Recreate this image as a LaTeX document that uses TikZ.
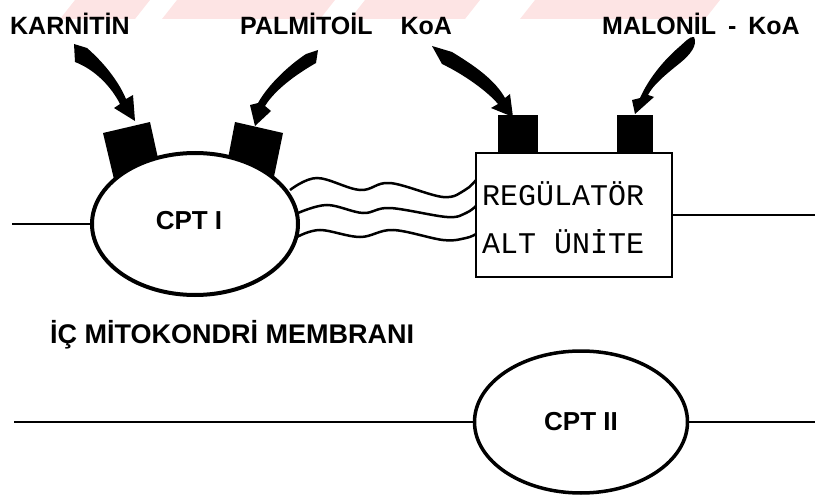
\documentclass[tikz,border=0pt]{standalone}
\usepackage{fontspec}
\setmainfont{Liberation Sans}
\newfontfamily\monofam{Liberation Mono}
\usetikzlibrary{shapes.geometric}
\definecolor{wm}{RGB}{253,228,228}
\tikzset{
  x=1pt,y=-1pt,
  lbl/.style={inner sep=0pt,anchor=base west,font=\fontsize{25}{30}\selectfont\bfseries},
  memlbl/.style={inner sep=0pt,anchor=base west,font=\fontsize{27}{32}\selectfont\bfseries},
  boxtxt/.style={inner sep=0pt,anchor=base west,font=\fontsize{30}{34}\selectfont\monofam},
  enz/.style={draw,ellipse,line width=4pt,fill=white,inner sep=0pt},
  mem/.style={line width=2pt},
  wave/.style={line width=2.5pt},
  blk/.style={fill=black},
}
\begin{document}
\begin{tikzpicture}
\useasboundingbox (0,0) rectangle (820,495);
% faint watermark band
\fill[wm] (60,19) -- (75,0) -- (150,0) -- (135,19) -- cycle;
\fill[wm] (162,19) -- (177,0) -- (335,0) -- (320,19) -- cycle;
\fill[wm] (350,19) -- (365,0) -- (480,0) -- (465,19) -- cycle;
\fill[wm] (520,19) -- (535,0) -- (720,0) -- (705,19) -- cycle;

% labels
\node[lbl] (karnitin) at (10,35) {KARNİTİN};
\node[lbl] (palm) at (240,35) {PALMİTOİL\hspace*{28pt}KoA};
\node[lbl] (malonil) at (602,35) {MALONİL\hspace*{12pt}-\hspace*{12pt}KoA};

% membrane lines
\coordinate (mL1) at (12,224);
\coordinate (mR1) at (815,215);
\coordinate (mL2) at (14,422);
\coordinate (mR2) at (815,422);

% blocks on CPT I (drawn before ellipse so that it covers their bases)
\fill[blk] (103,133) -- (150,122) -- (165,190) -- (118,196) -- cycle;
\fill[blk] (235,122) -- (283,133) -- (270,196) -- (222,190) -- cycle;

\node[enz,minimum width=206pt,minimum height=142pt] (cpt1) at (195,224) {};
\node[inner sep=0pt,font=\fontsize{26}{30}\selectfont\bfseries] (cpt1lbl) at (189,221) {CPT I};

% regulator subunit
\fill[blk] (498,115) rectangle (538,155);
\fill[blk] (617,115) rectangle (653,155);
\node[draw,line width=2.5pt,fill=white,minimum width=196pt,minimum height=124pt,inner sep=0pt] (reg) at (574,215) {};
\node[boxtxt] (regt1) at (482,205) {REGÜLATÖR};
\node[boxtxt] (regt2) at (482,253) {ALT ÜNİTE};

\draw[mem] (mL1) -- (cpt1.west);
\draw[mem] (reg.east) -- (mR1);

% wavy links
\draw[wave] plot[smooth,tension=0.6] coordinates {(290,190) (317,178) (360,190) (390,183) (443,197) (465,190) (476,180)};
\draw[wave] plot[smooth,tension=0.6] coordinates {(298,213) (327,205) (363,213) (390,208) (447,217) (466,213) (476,206)};
\draw[wave] plot[smooth,tension=0.6] coordinates {(297,237) (320,230) (360,237) (393,230) (443,240) (466,238) (476,234)};

% CPT II
\node[draw,ellipse,line width=3.5pt,minimum width=213pt,minimum height=142pt,inner sep=0pt,font=\fontsize{26}{30}\selectfont\bfseries] (cpt2) at (581,422) {CPT II};
\draw[mem] (mL2) -- (cpt2.west);
\draw[mem] (cpt2.east) -- (mR2);

\node[memlbl] (memlbl) at (50,343) {İÇ MİTOKONDRİ MEMBRANI};

% fat arrows
\fill (74,44) -- (87,48) .. controls (103,62) and (118,80) .. (126,99) -- (133,95) -- (135,121) -- (114,108) -- (120,104) .. controls (112,88) and (96,70) .. (75,62) -- cycle;
\fill (318,50) -- (316,63) .. controls (295,75) and (275,90) .. (265,106) -- (271,111) -- (255,126) -- (250,105) -- (258,103) .. controls (268,85) and (288,66) .. (306,54) -- cycle;
\fill (432,46) -- (452,52) .. controls (475,66) and (495,80) .. (505,98) -- (510,94) -- (513,117) -- (491,108) -- (498,104) .. controls (488,92) and (465,75) .. (442,64) -- cycle;
\fill (694,37) .. controls (698,45) and (690,55) .. (680,63) .. controls (665,75) and (653,85) .. (648,95) -- (654,97) -- (635,114) -- (632,100) -- (640,98) .. controls (648,80) and (662,62) .. (678,48) .. controls (685,42) and (690,36) .. (694,37) -- cycle;
\end{tikzpicture}
\end{document}
